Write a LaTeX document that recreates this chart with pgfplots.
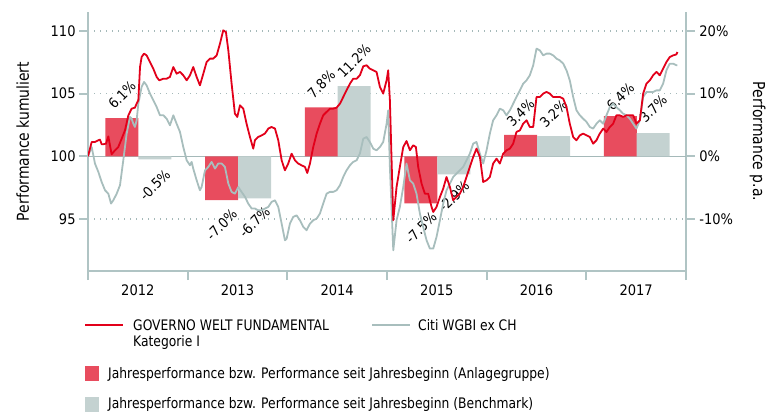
\documentclass[border=0pt]{standalone}
\usepackage{fontspec}
\setmainfont{DejaVu Sans}[FakeStretch=0.85]
\newfontfamily\numfont{DejaVu Sans}[FakeStretch=0.9]
\usepackage{pgfplots}
\pgfplotsset{compat=1.18}

\definecolor{redline}{RGB}{226,0,26}
\definecolor{redbar}{RGB}{232,76,94}
\definecolor{grayline}{RGB}{168,190,189}
\definecolor{graybar}{RGB}{196,210,209}
\definecolor{axisgray}{RGB}{176,196,196}
\definecolor{gridgray}{RGB}{165,185,185}

\pgfplotstableread{
x y
2012.000 100.00
2012.037 101.14
2012.070 101.14
2012.104 101.28
2012.120 101.33
2012.137 100.96
2012.154 100.96
2012.181 101.01
2012.204 101.59
2012.237 100.16
2012.271 100.48
2012.304 100.74
2012.338 101.41
2012.371 102.07
2012.405 103.27
2012.438 103.80
2012.471 103.88
2012.488 104.20
2012.505 104.47
2012.522 107.12
2012.538 107.92
2012.562 108.19
2012.588 108.05
2012.622 107.52
2012.655 106.99
2012.689 106.33
2012.715 106.06
2012.756 106.19
2012.789 106.19
2012.822 106.33
2012.856 107.12
2012.889 106.59
2012.923 106.73
2012.956 106.46
2012.990 106.06
2013.023 106.46
2013.056 107.12
2013.090 106.33
2013.123 105.66
2013.157 106.59
2013.190 107.52
2013.224 107.79
2013.257 107.79
2013.291 108.05
2013.324 108.98
2013.357 110.05
2013.384 109.91
2013.408 108.45
2013.441 105.79
2013.474 103.40
2013.498 103.14
2013.525 104.07
2013.558 103.80
2013.591 102.60
2013.625 101.54
2013.658 100.61
2013.675 101.28
2013.708 101.54
2013.742 101.67
2013.775 101.81
2013.809 102.21
2013.842 102.34
2013.876 102.21
2013.909 101.28
2013.943 99.68
2013.976 98.88
2014.009 99.42
2014.043 100.21
2014.076 99.68
2014.110 99.42
2014.143 99.28
2014.177 99.15
2014.200 98.67
2014.227 99.42
2014.260 100.74
2014.294 101.81
2014.327 102.60
2014.360 103.27
2014.394 103.54
2014.427 103.80
2014.461 103.80
2014.494 103.88
2014.528 104.20
2014.561 104.73
2014.594 105.26
2014.628 105.79
2014.661 106.19
2014.695 106.19
2014.728 106.46
2014.762 107.18
2014.795 107.26
2014.828 106.99
2014.862 106.86
2014.895 106.73
2014.929 105.53
2014.962 105.00
2014.996 106.06
2015.012 106.86
2015.029 104.47
2015.063 94.90
2015.096 97.55
2015.129 99.15
2015.163 100.74
2015.196 101.22
2015.230 100.48
2015.263 100.88
2015.290 100.74
2015.313 99.15
2015.347 97.82
2015.380 97.02
2015.413 97.02
2015.447 95.96
2015.464 95.56
2015.497 95.96
2015.531 96.76
2015.564 97.42
2015.597 98.35
2015.631 97.55
2015.664 96.49
2015.697 96.76
2015.731 97.02
2015.764 97.55
2015.798 98.35
2015.831 99.15
2015.865 99.95
2015.898 100.61
2015.932 99.95
2015.965 97.95
2015.999 98.09
2016.032 98.35
2016.065 99.42
2016.099 99.81
2016.132 99.42
2016.166 100.21
2016.199 100.48
2016.233 100.61
2016.266 101.01
2016.299 101.94
2016.333 102.07
2016.366 102.60
2016.400 102.87
2016.433 102.34
2016.467 102.34
2016.500 104.73
2016.534 104.73
2016.567 105.00
2016.600 105.13
2016.634 105.00
2016.667 104.73
2016.701 104.73
2016.734 104.73
2016.768 104.60
2016.801 103.93
2016.834 102.60
2016.868 101.54
2016.901 101.28
2016.935 101.67
2016.968 101.81
2017.002 101.67
2017.035 101.54
2017.068 101.01
2017.102 101.28
2017.135 101.81
2017.169 102.21
2017.202 101.94
2017.236 102.34
2017.269 102.60
2017.302 103.27
2017.336 103.27
2017.369 103.14
2017.403 103.27
2017.436 103.27
2017.470 103.27
2017.503 102.60
2017.537 102.87
2017.570 105.00
2017.603 105.79
2017.637 106.06
2017.670 106.46
2017.704 106.73
2017.737 106.46
2017.770 106.99
2017.804 107.52
2017.837 107.92
2017.871 108.05
2017.904 108.13
2017.914 108.32
}\fundtable

\pgfplotstableread{
x y
2012.000 100.00
2012.037 100.74
2012.070 99.42
2012.104 98.75
2012.137 97.95
2012.171 97.29
2012.204 97.02
2012.231 96.23
2012.254 96.49
2012.288 97.02
2012.321 97.69
2012.354 99.68
2012.388 101.81
2012.421 103.14
2012.438 103.00
2012.455 102.60
2012.471 102.34
2012.488 102.87
2012.505 104.20
2012.538 105.53
2012.562 105.93
2012.588 105.66
2012.622 105.00
2012.655 104.47
2012.689 103.93
2012.722 103.27
2012.756 103.27
2012.789 103.00
2012.822 102.47
2012.856 103.27
2012.889 102.60
2012.923 101.94
2012.956 100.74
2012.990 99.68
2013.023 99.28
2013.040 99.55
2013.056 99.02
2013.090 98.09
2013.123 97.29
2013.140 97.55
2013.174 98.88
2013.207 99.15
2013.240 99.55
2013.274 99.02
2013.307 99.42
2013.341 99.42
2013.374 99.15
2013.408 97.82
2013.441 97.16
2013.474 97.02
2013.508 97.55
2013.541 97.16
2013.575 96.76
2013.608 96.23
2013.642 95.83
2013.675 95.83
2013.708 95.69
2013.742 95.69
2013.775 95.83
2013.809 95.96
2013.842 96.36
2013.876 96.49
2013.909 95.96
2013.943 94.63
2013.976 93.30
2013.993 93.43
2014.026 94.63
2014.059 95.16
2014.093 95.29
2014.126 94.90
2014.160 94.36
2014.193 94.10
2014.227 94.63
2014.260 94.90
2014.294 95.03
2014.327 95.43
2014.360 96.23
2014.394 97.02
2014.427 97.16
2014.461 97.16
2014.494 97.29
2014.528 97.69
2014.561 98.35
2014.594 98.88
2014.628 99.28
2014.661 99.55
2014.695 99.68
2014.728 100.21
2014.762 101.41
2014.795 101.54
2014.828 101.14
2014.862 100.61
2014.895 100.48
2014.929 100.74
2014.962 101.14
2014.996 102.60
2015.012 103.67
2015.029 99.15
2015.063 92.50
2015.096 94.90
2015.129 95.96
2015.163 97.55
2015.196 99.42
2015.230 98.09
2015.263 97.82
2015.296 97.02
2015.330 95.43
2015.363 94.36
2015.397 93.30
2015.430 92.64
2015.464 92.64
2015.497 93.57
2015.531 94.90
2015.564 96.23
2015.597 97.29
2015.631 97.82
2015.664 98.35
2015.697 98.62
2015.731 98.88
2015.764 99.15
2015.798 99.68
2015.831 100.21
2015.865 101.01
2015.898 101.14
2015.932 100.21
2015.965 99.42
2015.999 100.48
2016.032 101.81
2016.065 102.87
2016.099 103.27
2016.132 103.80
2016.166 103.67
2016.199 103.27
2016.233 103.67
2016.266 104.20
2016.299 104.73
2016.333 105.26
2016.366 105.79
2016.400 106.06
2016.433 106.46
2016.467 107.26
2016.500 108.59
2016.534 108.45
2016.567 108.05
2016.600 108.19
2016.634 108.19
2016.667 108.05
2016.701 107.79
2016.734 107.65
2016.768 107.39
2016.801 106.86
2016.834 106.06
2016.868 104.73
2016.901 103.67
2016.935 103.27
2016.968 103.00
2017.002 102.74
2017.035 102.34
2017.068 102.21
2017.102 102.60
2017.135 102.87
2017.169 102.60
2017.202 103.27
2017.236 103.93
2017.269 104.20
2017.302 103.93
2017.336 103.67
2017.369 103.40
2017.403 103.27
2017.436 103.00
2017.470 102.60
2017.503 102.21
2017.537 102.87
2017.570 104.73
2017.603 105.13
2017.637 105.13
2017.670 105.13
2017.704 105.26
2017.737 105.26
2017.770 105.79
2017.804 106.86
2017.837 107.39
2017.871 107.39
2017.904 107.26
2017.914 107.26
}\benchtable

% annual performance (%), fund and benchmark
\pgfplotstableread{
x y
2012.341 6.1
2013.341 -7.0
2014.341 7.8
2015.341 -7.5
2016.341 3.4
2017.341 6.4
}\fundbars
\pgfplotstableread{
x y
2012.671 -0.5
2013.671 -6.7
2014.671 11.2
2015.671 -2.9
2016.671 3.2
2017.671 3.7
}\benchbars

\begin{document}
\begin{tikzpicture}[font=\fontsize{14.5bp}{17bp}\selectfont]
\useasboundingbox (0,0) rectangle (780bp,-412bp);

\pgfplotsset{
  common/.style={
    at={(88bp,-271bp)}, anchor=south west,
    scale only axis, width=598bp, height=259bp,
    xmin=2012, xmax=2018,
    axis line style={axisgray, line width=2.5bp, -},
    tick style={axisgray, line width=2bp},
    major tick length=9bp, tick align=outside,
    /pgf/number format/assume math mode=true,
    every tick label/.append style={font=\numfont\fontsize{14.5bp}{17bp}\selectfont, black},
    label style={font=\fontsize{16.4bp}{19bp}\selectfont, black},
  }
}

% right axis: percent scale, grid and annual bars
\begin{axis}[common,
  ymin=-18.3, ymax=23.02,
  axis y line*=right, axis x line=none,
  ytick={-10,0,10,20},
  yticklabels={-10\%,0\%,10\%,20\%},
  ymajorgrids,
  major grid style={gridgray, line width=1.4bp, dash pattern=on 1.4bp off 4.6bp},
  ylabel={Performance p.a.},
  ylabel style={at={(axis description cs:1.120,0.5)}, anchor=center, rotate=180},
  yticklabel style={xshift=1bp},
  clip=false,
]
\draw[gridgray, line width=1bp] (axis cs:2012,0) -- (axis cs:2018,0);
\addplot[ybar, bar width=33bp, bar shift=0pt, fill=redbar, draw=none] table[x=x,y=y] {\fundbars};
\addplot[ybar, bar width=33bp, bar shift=0pt, fill=graybar, draw=none] table[x=x,y=y] {\benchbars};
\begin{scope}[every node/.style={rotate=45, font=\numfont\fontsize{14bp}{16bp}\selectfont}]
\node at (axis cs:2012.341,9.8) {6.1\%};
\node at (axis cs:2012.671,-4.6) {-0.5\%};
\node at (axis cs:2013.341,-10.9) {-7.0\%};
\node at (axis cs:2013.671,-10.5) {-6.7\%};
\node at (axis cs:2014.341,11.5) {7.8\%};
\node at (axis cs:2014.671,15.2) {11.2\%};
\node at (axis cs:2015.341,-11.4) {-7.5\%};
\node at (axis cs:2015.671,-6.4) {-2.9\%};
\node at (axis cs:2016.341,6.9) {3.4\%};
\node at (axis cs:2016.671,6.8) {3.2\%};
\node at (axis cs:2017.341,9.5) {6.4\%};
\node at (axis cs:2017.671,7.6) {3.7\%};
\end{scope}
\end{axis}

% left axis: cumulative performance lines
\begin{axis}[common,
  ymin=90.85, ymax=111.51,
  axis x line*=bottom, axis y line*=left,
  ytick={95,100,105,110},
  yticklabels={95,100,105,110},
  xtick={2012,2013,2014,2015,2016,2017,2018},
  x tick label as interval,
  xticklabels={2012,2013,2014,2015,2016,2017},
  xticklabel style={yshift=-1bp},
  ylabel={Performance kumuliert},
  ylabel style={at={(axis description cs:-0.109,0.5)}, anchor=center},
]
\addplot[grayline, line width=1.8bp, line join=round] table[x=x,y=y] {\benchtable};
\addplot[redline, line width=1.8bp, line join=round] table[x=x,y=y] {\fundtable};
\end{axis}

% legend
\draw[redline, line width=2.5bp] (85bp,-325bp) -- (123bp,-325bp);
\node[anchor=base west, inner sep=0] at (133bp,-330.5bp) {GOVERNO WELT FUNDAMENTAL};
\node[anchor=base west, inner sep=0] at (133bp,-346.5bp) {Kategorie I};
\draw[grayline, line width=2.5bp] (372bp,-325bp) -- (410bp,-325bp);
\node[anchor=base west, inner sep=0] at (418bp,-330.5bp) {Citi WGBI ex CH};
\fill[redbar] (85bp,-366bp) rectangle (99bp,-381bp);
\node[anchor=base west, inner sep=0] at (108bp,-378.5bp) {Jahresperformance bzw. Performance seit Jahresbeginn (Anlagegruppe)};
\fill[graybar] (85bp,-397bp) rectangle (99bp,-412bp);
\node[anchor=base west, inner sep=0] at (108bp,-408.5bp) {Jahresperformance bzw. Performance seit Jahresbeginn (Benchmark)};
\end{tikzpicture}
\end{document}
